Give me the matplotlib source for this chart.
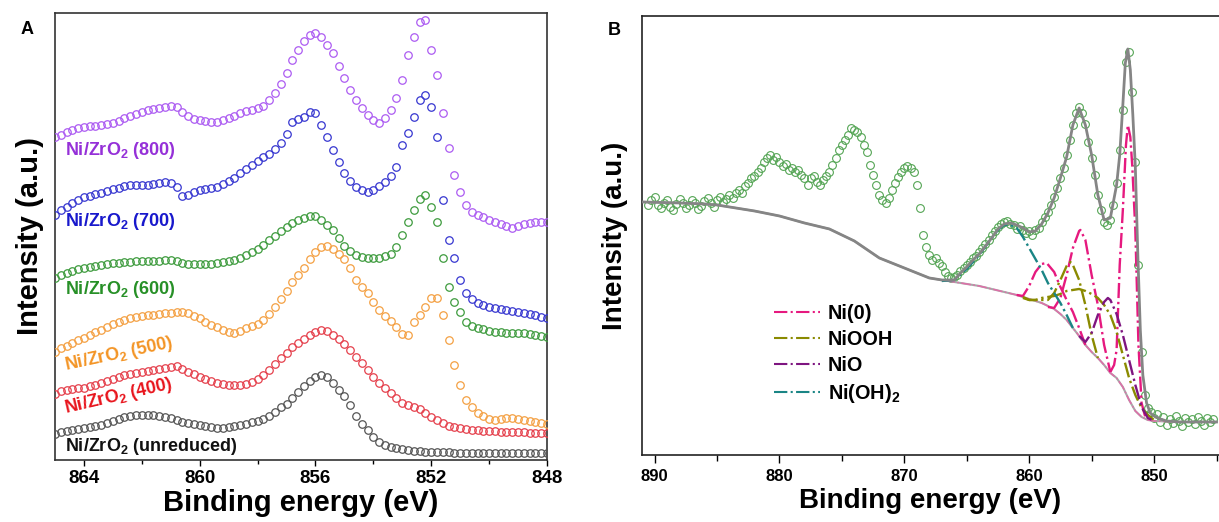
import numpy as np
import matplotlib
matplotlib.use("Agg")
import matplotlib.pyplot as plt
from matplotlib.ticker import MultipleLocator

plt.rcParams['font.family'] = ['Liberation Sans', 'DejaVu Sans']
plt.rcParams['font.weight'] = 'bold'
plt.rcParams['mathtext.fontset'] = 'custom'
plt.rcParams['mathtext.rm'] = 'Liberation Sans'
plt.rcParams['mathtext.bf'] = 'Liberation Sans:bold'

# ---------------- Panel A: Ni 2p3/2 spectra, stacked (a.u.) ----------------
energy_a = np.round(np.arange(865.0, 847.95, -0.2), 2)

int_800 = [323, 325, 328, 330, 332, 333, 334, 334, 335, 336,
           337, 339, 342, 344, 346, 348, 350, 351, 352, 353,
           354, 353, 348, 344, 341, 340, 339, 338, 338, 340,
           342, 344, 347, 349, 350, 352, 354, 360, 367, 376,
           387, 400, 410, 419, 425, 427, 423, 415, 407, 394,
           382, 370, 360, 352, 345, 340, 337, 342, 350, 362,
           380, 405, 423, 438, 440, 410, 385, 347, 312, 285,
           268, 255, 248, 245, 243, 240, 238, 236, 234, 232,
           234, 236, 237, 238, 238, 238]
int_700 = [245, 250, 253, 257, 260, 263, 264, 266, 267, 269,
           271, 272, 274, 275, 275, 275, 275, 276, 277, 278,
           277, 273, 264, 265, 268, 270, 271, 272, 273, 276,
           279, 282, 287, 291, 295, 299, 303, 306, 311, 317,
           326, 338, 341, 343, 348, 347, 335, 323, 310, 298,
           287, 279, 273, 270, 268, 270, 274, 278, 284, 293,
           315, 327, 343, 360, 365, 353, 323, 260, 220, 202,
           180, 167, 161, 157, 155, 153, 152, 151, 150, 149,
           148, 147, 146, 145, 143, 142]
int_600 = [182, 185, 187, 189, 191, 192, 193, 194, 195, 196,
           197, 197, 198, 198, 199, 199, 199, 199, 199, 200,
           200, 199, 197, 196, 196, 196, 196, 196, 197, 198,
           199, 200, 202, 205, 208, 211, 215, 220, 224, 229,
           233, 237, 240, 242, 244, 244, 240, 235, 230, 222,
           214, 209, 205, 203, 202, 202, 202, 204, 206, 213,
           225, 238, 250, 261, 265, 253, 238, 202, 173, 158,
           148, 138, 134, 132, 131, 129, 128, 128, 127, 127,
           127, 127, 126, 125, 124, 123]
int_500 = [108, 112, 114, 117, 120, 122, 125, 128, 130, 133,
           136, 138, 140, 142, 143, 144, 145, 145, 146, 147,
           147, 148, 148, 147, 144, 142, 138, 135, 133, 130,
           128, 127, 129, 132, 134, 136, 140, 146, 153, 161,
           169, 178, 185, 192, 201, 208, 213, 214, 211, 206,
           201, 192, 180, 173, 167, 158, 150, 144, 139, 133,
           126, 125, 138, 145, 153, 162, 162, 145, 120, 95,
           75, 60, 53, 47, 44, 41, 40, 41, 42, 42,
           41, 40, 39, 38, 37, 36]
int_400 = [66, 69, 70, 71, 72, 72, 74, 75, 77, 79,
           81, 83, 85, 86, 87, 88, 89, 90, 91, 92,
           93, 94, 91, 88, 86, 83, 81, 79, 77, 76,
           75, 75, 75, 76, 78, 81, 85, 90, 96, 102,
           107, 113, 117, 121, 125, 128, 130, 129, 125, 121,
           116, 110, 103, 97, 90, 83, 77, 72, 67, 62,
           57, 55, 53, 51, 47, 43, 40, 37, 34, 33,
           32, 31, 30, 30, 29, 29, 29, 28, 28, 28,
           28, 28, 27, 27, 27, 27]
int_unred = [26, 28, 29, 30, 31, 32, 33, 34, 35, 37,
             39, 41, 43, 44, 45, 45, 45, 45, 44, 43,
             42, 40, 38, 37, 36, 35, 34, 33, 32, 32,
             33, 34, 35, 36, 38, 39, 41, 44, 48, 53,
             56, 62, 68, 74, 79, 83, 85, 83, 77, 70,
             64, 55, 44, 36, 30, 23, 18, 15, 13, 12,
             11, 10, 9, 9, 8, 8, 8, 8, 8, 7,
             7, 7, 7, 7, 7, 7, 7, 7, 7, 7,
             7, 7, 7, 7, 7, 7]

series_a = [int_800, int_700, int_600, int_500, int_400, int_unred]
labels_a = [r'Ni/ZrO$_\mathbf{2}$ (800)', r'Ni/ZrO$_\mathbf{2}$ (700)',
            r'Ni/ZrO$_\mathbf{2}$ (600)', r'Ni/ZrO$_\mathbf{2}$ (500)',
            r'Ni/ZrO$_\mathbf{2}$ (400)', r'Ni/ZrO$_\mathbf{2}$ (unreduced)']
marker_colors = ['#AC5CF2', '#3737D0', '#3E9B3E', '#F4A043', '#E5404C', '#555555']
text_colors = ['#9530D8', '#1818CC', '#279027', '#F39424', '#E8141C', '#111111']
# label anchor (energy, intensity) and rotation
label_pos = [(864.66, 309, 0), (864.66, 238, 0), (864.66, 170, 0),
             (862.79, 106, 12), (862.79, 64, 13), (864.66, 13, 0)]

# ---------------- Panel B: Ni 2p spectrum with fit ----------------
energy_b = np.round(np.arange(890.5, 845.2, -0.25), 2)
int_b = [250, 255, 258, 250, 247, 252, 255, 248, 245, 251,
         256, 252, 247, 250, 255, 252, 246, 249, 254, 257,
         252, 248, 255, 258, 253, 256, 260, 257, 262, 265,
         262, 269, 272, 277, 279, 283, 287, 293, 297, 300,
         295, 298, 293, 289, 291, 285, 287, 283, 285, 280,
         277, 270, 277, 279, 273, 270, 275, 279, 283, 290,
         297, 305, 310, 315, 320, 327, 325, 323, 318, 310,
         303, 290, 280, 270, 260, 255, 252, 257, 265, 272,
         278, 283, 287, 289, 287, 283, 270, 247, 220, 208,
         200, 195, 197, 192, 189, 183, 179, 177, 178, 180,
         184, 187, 190, 193, 197, 199, 203, 207, 211, 215,
         220, 224, 228, 231, 233, 234, 231, 230, 226, 229,
         225, 222, 224, 220, 225, 227, 233, 238, 243, 250,
         258, 267, 277, 287, 300, 315, 330, 342, 348, 342,
         331, 313, 297, 280, 260, 245, 233, 230, 235, 250,
         272, 305, 345, 393, 403, 363, 293, 190, 103, 60,
         47, 43, 37, 41, 33, 38, 30, 36, 32, 39,
         34, 29, 37, 33, 36, 31, 38, 34, 30, 37,
         33, 36]

bg_e = [891, 888, 886, 885, 884, 882, 880, 878, 876, 874, 872, 870, 868, 866,
        864, 862, 861, 860, 859, 858, 857.5, 857, 856.5, 856, 855.5, 855,
        854.5, 854, 853.5, 853, 852.5, 852, 851.5, 851, 850.5, 850, 848, 845]
bg_i = [253, 252, 251, 250, 248, 244, 239, 232, 226, 214, 197, 187, 177, 173,
        169, 163, 160, 156, 152, 146, 141, 135, 127, 119, 110, 103,
        97, 90, 82, 77, 68, 55, 44, 38, 35, 34, 33, 33]

env_e = [891, 888, 886, 885, 884, 882, 880, 878, 876, 874, 872, 870, 868, 867,
         866.0, 865.5, 865.0, 864.5, 864.0, 863.5, 863.0, 862.5, 862.0, 861.5,
         861.0, 860.5, 860.0, 859.5, 859.0, 858.5, 858.0, 857.5, 857.0, 856.5,
         856.0, 855.5, 855.0, 854.5, 854.0, 853.5, 853.0, 852.75, 852.5, 852.3,
         852.1, 851.9, 851.7, 851.5, 851.3, 851.1, 850.9, 850.6, 850.3, 850.0,
         849.5, 849.0, 848.0, 845.0]
env_i = [253, 252, 251, 250, 248, 244, 239, 232, 226, 214, 197, 187, 177, 175,
         175, 182, 188, 195, 201, 209, 217, 226, 231, 232,
         230, 227, 223, 224, 231, 242, 257, 277, 298, 330,
         347, 330, 300, 260, 235, 237, 270, 300, 350, 392,
         406, 385, 340, 288, 200, 125, 80, 52, 42, 39,
         36, 34, 33, 33]

# fitted components (absolute intensity, background included)
ni0_main_e = [853.5, 853.2, 853.0, 852.75, 852.5, 852.25, 852.1, 851.9, 851.75,
              851.5, 851.25, 851.0, 850.75, 850.5]
ni0_main_i = [83, 90, 105, 190, 245, 310, 330, 318, 290, 225, 110, 52, 40, 36]
ni0_sat1_e = [858.5, 858.0, 857.5, 857.0, 856.5, 856.0, 855.9, 855.5, 855.0, 854.5, 854.0, 853.5]
ni0_sat1_i = [148, 147, 157, 180, 207, 224, 225, 215, 180, 150, 110, 83]
ni0_sat2_e = [861.0, 860.5, 860.0, 859.5, 859.0, 858.6, 858.0, 857.5, 857.0, 856.5, 856.0, 855.5]
ni0_sat2_i = [160, 159, 169, 183, 191, 192, 183, 168, 155, 143, 127, 110]
niooh_a_e = [860.5, 860.0, 859.0, 858.5, 858.0, 857.5, 857.0, 856.7, 856.5, 856.0, 855.5, 855.0, 854.5]
niooh_a_i = [158, 155, 155, 155, 162, 175, 189, 193, 190, 175, 150, 120, 97]
niooh_b_e = [860.5, 860.0, 859.5, 859.0, 858.5, 858.0, 857.5, 857.0, 856.5, 856.0, 855.5,
             855.0, 854.5, 854.0, 853.5, 853.0, 852.5, 852.0, 851.5, 851.0, 850.5, 850.0]
niooh_b_i = [157, 155, 155, 157, 158, 159, 161, 164, 165, 166, 164,
             161, 157, 150, 140, 123, 100, 77, 60, 47, 40, 35]
nio_e = [856.0, 855.5, 855.0, 854.5, 854.0, 853.7, 853.5, 853.0, 852.5, 852.0, 851.5, 851.0, 850.5, 850.0]
nio_i = [119, 113, 122, 140, 153, 157, 155, 141, 120, 95, 70, 48, 37, 34]
nioh2_e = [867.0, 866.0, 865.0, 864.0, 863.0, 862.5, 862.0, 861.5, 861.0, 860.5,
           860.0, 859.5, 859.0, 858.5, 858.0, 857.5, 857.0, 856.5]
nioh2_i = [174, 175, 186, 200, 217, 225, 230, 230, 227, 218,
           207, 196, 185, 172, 162, 152, 140, 127]

comp_names = ['Ni(0)', 'NiOOH', 'NiO', r'Ni(OH)$_\mathbf{2}$']
comp_colors = ['#E6197F', '#8A8A00', '#7E1580', '#1A8585']
components = [
    (0, ni0_sat2_e, ni0_sat2_i), (0, ni0_sat1_e, ni0_sat1_i), (0, ni0_main_e, ni0_main_i),
    (1, niooh_a_e, niooh_a_i), (1, niooh_b_e, niooh_b_i),
    (2, nio_e, nio_i),
    (3, nioh2_e, nioh2_i),
]

# ---------------- figure ----------------
fig = plt.figure(figsize=(12.19, 5.22), dpi=100)
ax1 = fig.add_axes([0.0451, 0.1188, 0.4036, 0.8563])
ax2 = fig.add_axes([0.5267, 0.1284, 0.4733, 0.8410])

# Panel A
for vals, mc, tc, lab, (lx, ly, rot) in zip(series_a, marker_colors, text_colors, labels_a, label_pos):
    ax1.plot(energy_a, vals, 'o', mfc='none', mec=mc, mew=0.9, ms=5.4, zorder=3)
    if rot:
        ax1.text(lx, ly, lab, color=tc, fontsize=13, fontweight='bold',
                 rotation=rot, ha='center', va='center', rotation_mode='anchor')
    else:
        ax1.text(lx, ly, lab, color=tc, fontsize=13, fontweight='bold', ha='left', va='center')

ax1.set_xlim(865, 848)
ax1.set_ylim(0, 447)
ax1.xaxis.set_major_locator(MultipleLocator(4))
ax1.xaxis.set_minor_locator(MultipleLocator(2))
ax1.tick_params(axis='x', which='major', direction='out', length=4, width=1.0, labelsize=13.5, pad=3)
ax1.tick_params(axis='x', which='minor', direction='out', length=3, width=1.0)
ax1.tick_params(axis='y', left=False, labelleft=False)
for s in ax1.spines.values():
    s.set_linewidth(1.2)
    s.set_color('#333333')
ax1.set_xlabel('Binding energy (eV)', fontsize=21, fontweight='bold', labelpad=2)
ax1.set_ylabel('Intensity (a.u.)', fontsize=21, fontweight='bold', labelpad=8)
fig.text(0.0225, 0.944, 'A', fontsize=13, fontweight='bold', ha='center', va='center')

# Panel B
ax2.plot(energy_b, int_b, 'o', mfc='none', mec='#55A555', mew=0.8, ms=5.6, zorder=2)
bg_e_arr = np.array(bg_e)
bg_i_arr = np.array(bg_i)
ax2.plot(bg_e_arr, bg_i_arr, '-', color='#A8A8A8', lw=1.5, zorder=3)
low = bg_e_arr <= 868
ax2.plot(bg_e_arr[low], bg_i_arr[low], linestyle='-.', color='#DE6FA8', lw=1.1, zorder=3)
for k, ce, ci in components:
    ax2.plot(ce, ci, linestyle='-.', color=comp_colors[k], lw=1.7, zorder=4)
ax2.plot(env_e, env_i, '-', color='#858585', lw=2.0, zorder=5)

handles = [plt.Line2D([], [], linestyle='-.', color=c, lw=1.5) for c in comp_colors]
ax2.legend(handles, comp_names, loc='upper left', bbox_to_anchor=(0.229, 0.345),
           frameon=False, handlelength=2.3, handletextpad=0.4,
           labelspacing=0.36, borderaxespad=0, borderpad=0,
           prop={'weight': 'bold', 'size': 14.3})

ax2.set_xlim(891, 844.8)
ax2.set_ylim(0, 439)
ax2.xaxis.set_major_locator(MultipleLocator(10))
ax2.xaxis.set_minor_locator(MultipleLocator(5))
ax2.tick_params(axis='x', which='major', direction='out', length=6, width=1.0, labelsize=12, pad=4)
ax2.tick_params(axis='x', which='minor', direction='out', length=4, width=1.0)
ax2.tick_params(axis='y', left=False, labelleft=False)
ax2.spines['right'].set_visible(False)
for s in ['left', 'top', 'bottom']:
    ax2.spines[s].set_linewidth(1.2)
    ax2.spines[s].set_color('#222222')
ax2.set_xlabel('Binding energy (eV)', fontsize=20, fontweight='bold', labelpad=3)
ax2.set_ylabel('Intensity (a.u.)', fontsize=20, fontweight='bold', labelpad=10)
fig.text(0.5035, 0.942, 'B', fontsize=13, fontweight='bold', ha='center', va='center')

fig.savefig('out.png', dpi=100, facecolor='white')
